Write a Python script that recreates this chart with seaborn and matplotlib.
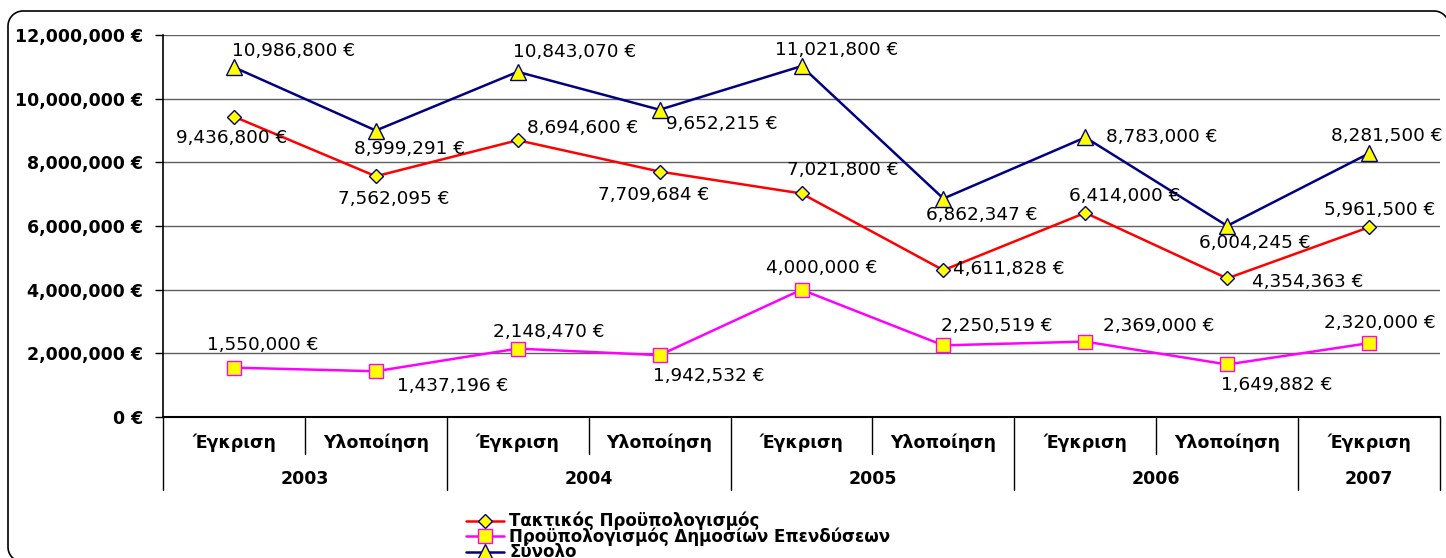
import matplotlib
matplotlib.use("Agg")
import matplotlib.pyplot as plt
import matplotlib.transforms as mtransforms
from matplotlib.lines import Line2D
import seaborn as sns
import pandas as pd
import numpy as np

# data
phases = ["Έγκριση", "Υλοποίηση", "Έγκριση", "Υλοποίηση", "Έγκριση",
          "Υλοποίηση", "Έγκριση", "Υλοποίηση", "Έγκριση"]
years = ["2003", "2004", "2005", "2006", "2007"]
year_spans = [(0, 1), (2, 3), (4, 5), (6, 7), (8, 8)]

taktikos = [9436800, 7562095, 8694600, 7709684, 7021800, 4611828, 6414000, 4354363, 5961500]
pde = [1550000, 1437196, 2148470, 1942532, 4000000, 2250519, 2369000, 1649882, 2320000]
synolo = [10986800, 8999291, 10843070, 9652215, 11021800, 6862347, 8783000, 6004245, 8281500]

names = ["Τακτικός Προϋπολογισμός", "Προϋπολογισμός Δημοσίων Επενδύσεων", "Σύνολο"]

# label offsets in pixels (dx, dy) relative to each marker
off_takt = [(-2, -21), (18, -23), (65, 12), (-6, -23), (41, 23), (65, 1), (39, 17), (81, -4), (11, 17)]
off_pde = [(29, 23), (77, -15), (31, 17), (49, -21), (20, 22), (53, 19), (73, 16), (50, -21), (11, 20)]
off_syn = [(60, 16), (34, -18), (57, 20), (62, -14), (35, 16), (38, -16), (76, 0), (28, -17), (18, 17)]

sns.set_style("white")
plt.rcParams["font.family"] = ["DejaVu Sans"]
plt.rcParams["text.color"] = "black"
plt.rcParams["ytick.color"] = "black"
plt.rcParams["xtick.color"] = "black"

W, H = 1446, 558
fig = plt.figure(figsize=(W / 100, H / 100), dpi=100)

# rounded chart border, drawn as an open polyline (right/bottom run off the image)
L, R, B, T, r = 8, 1449, -4, 547, 15
def arc(cx, cy, a0, a1):
    a = np.radians(np.linspace(a0, a1, 20))
    return cx + r * np.cos(a), cy + r * np.sin(a)
parts = [arc(L + r, B + r, 270, 180), arc(L + r, T - r, 180, 90), arc(R - r, T - r, 90, 0)]
bx = np.concatenate([p[0] for p in parts] + [np.array([R])])
by = np.concatenate([p[1] for p in parts] + [np.array([B])])
fig.add_artist(Line2D(bx, by, transform=mtransforms.IdentityTransform(),
                      color="black", linewidth=1.2, zorder=-1))

ax = fig.add_axes([163 / W, 141 / H, (1440 - 163) / W, 382 / H])
ax.set_facecolor("none")

x = np.arange(len(phases))
series = [
    (taktikos, "#FF0000", "D", 7.5, "#000080", off_takt),
    (pde, "#FF00FF", "s", 9.5, "#FF00FF", off_pde),
    (synolo, "#000080", "^", 11, "#000080", off_syn),
]

for (vals, col, mk, ms, mec, offs), name in zip(series, names):
    df = pd.DataFrame({"x": x, "v": vals})
    sns.lineplot(data=df, x="x", y="v", ax=ax, color=col, linewidth=1.8, marker=mk,
                 markersize=ms, markerfacecolor="#FFFF00", markeredgecolor=mec,
                 markeredgewidth=1.0, label=name, zorder=3)
    for xi, v, (dx, dy) in zip(x, vals, offs):
        ax.annotate(f"{v:,.0f} €", (xi, v), xytext=(dx, dy), textcoords="offset pixels",
                    ha="center", va="center", fontsize=13.3, color="black", zorder=4)

ax.set_xlim(-0.5, len(phases) - 0.5)
ax.set_ylim(0, 12000000)
ax.set_yticks(np.arange(0, 12000001, 2000000))
ax.set_yticklabels([f"{int(t):,} €" for t in ax.get_yticks()], fontsize=12.5,
                   fontweight="bold", color="black")
ax.tick_params(axis="y", length=6, width=1, pad=8.5, color="black", direction="out", left=True)
ax.set_xticks([])
ax.set_xlabel("")
ax.set_ylabel("")
ax.yaxis.grid(True, color="#606060", linewidth=1)
ax.set_axisbelow(True)
for s in ["top", "right"]:
    ax.spines[s].set_visible(False)
ax.spines["left"].set_color("black")
ax.spines["bottom"].set_color("black")
ax.spines["left"].set_linewidth(1.2)
ax.spines["bottom"].set_linewidth(1.5)

# category axis below the plot
trans = mtransforms.blended_transform_factory(ax.transData, ax.transAxes)
for i, p in enumerate(phases):
    ax.text(i, -0.068, p, transform=trans, ha="center", va="center",
            fontsize=12.5, fontweight="bold", color="black")
for yr, (a, b) in zip(years, year_spans):
    ax.text((a + b) / 2, -0.162, yr, transform=trans, ha="center", va="center",
            fontsize=12.5, fontweight="bold", color="black")
long_sep = [-0.5, 1.5, 3.5, 5.5, 7.5, 8.5]
short_sep = [0.5, 2.5, 4.5, 6.5]
for s in long_sep:
    ax.plot([s, s], [0, -0.191], transform=trans, color="black", lw=1, clip_on=False)
for s in short_sep:
    ax.plot([s, s], [0, -0.097], transform=trans, color="black", lw=1, clip_on=False)

handles, labels = ax.get_legend_handles_labels()
if ax.get_legend() is not None:
    ax.get_legend().remove()
leg = fig.legend(handles, labels, loc="upper left", bbox_to_anchor=(466 / W, (H - 512) / H),
                 frameon=False, prop={"weight": "bold", "size": 12}, handlelength=2.3,
                 handletextpad=0.3, labelspacing=-0.17, borderpad=0, borderaxespad=0)
for t in leg.get_texts():
    t.set_color("black")

fig.savefig("out.png", dpi=100)
